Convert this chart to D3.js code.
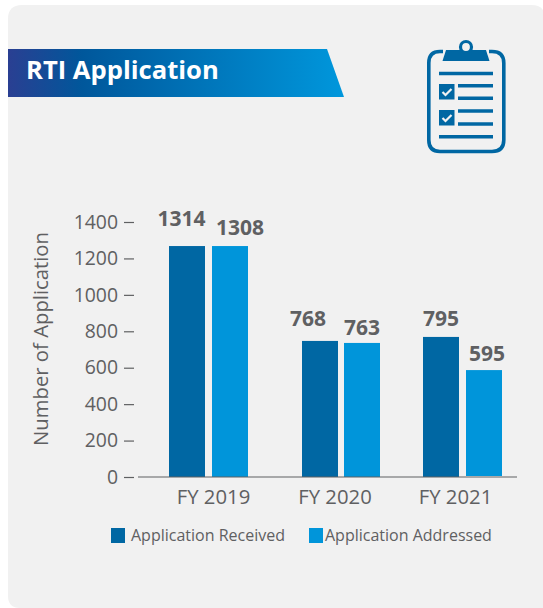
<!DOCTYPE html>
<html><head><meta charset="utf-8">
<script src="https://cdn.jsdelivr.net/npm/d3@7"></script>
<style>html,body{margin:0;padding:0;background:#fff}svg{display:block}text{font-family:"Open Sans",sans-serif}</style>
</head><body><div id="c"></div>
<script>
const categories = ["FY 2019","FY 2020","FY 2021"];
const seriesNames = ["Application Received","Application Addressed"];
// numbers printed above the bars
const receivedLabels = [1314,768,795];
const addressedLabels = [1308,763,595];
// bar heights as read against the printed axis (the source's bars sit a little below their labels)
const receivedBars = [1268,747,769];
const addressedBars = [1268,736,587];
const yTicks = [0,200,400,600,800,1000,1200,1400];
const title = "RTI Application";
const yTitle = "Number of Application";

const W=543,H=608, dark="#0067a3", light="#0095da", ink="#5f6062", FF='"Open Sans",sans-serif';
const svg=d3.select("#c").append("svg").attr("width",W).attr("height",H);
const defs=svg.append("defs");
const g=defs.append("linearGradient").attr("id","bn");
[[0,"#2a3f92"],[.22,"#00579b"],[1,"#0097dc"]].forEach(s=>g.append("stop").attr("offset",s[0]).attr("stop-color",s[1]));

svg.append("path").attr("fill","#f1f1f1")
 .attr("d","M8 596 V19 Q8 5 22 5 H531 Q540 5 543 10 V608 H20 Q8 608 8 596 Z");
svg.append("path").attr("fill","url(#bn)").attr("d","M8 49 H327 L344 97 H8 Z");
svg.append("text").attr("x",26).attr("y",79).attr("fill","#fff").attr("font-weight",700).attr("font-size",25.6).text(title);

// clipboard icon
const ic=svg.append("g").attr("fill","none").attr("stroke",dark);
ic.append("path").attr("stroke-width",3.6).attr("d","M443 51.5 H440 Q428.8 51.5 428.8 63 V140 Q428.8 151.5 440 151.5 H492 Q503.8 151.5 503.8 140 V63 Q503.8 51.5 492 51.5 H489");
ic.append("path").attr("fill",dark).attr("stroke","none").attr("d","M446 50 H486 L489.5 61 H442.5 Z");
ic.append("circle").attr("cx",466).attr("cy",47).attr("r",5.5).attr("fill","#f1f1f1").attr("stroke-width",3.2);
[[439,493,73.5],[458,493,85.7],[458,493,98.3],[458,493,111],[458,493,124],[439,493,136.7]].forEach(l=>
 ic.append("line").attr("x1",l[0]).attr("x2",l[1]).attr("y1",l[2]).attr("y2",l[2]).attr("stroke-width",3.4));
[84,110].forEach(y=>{
 ic.append("rect").attr("x",439).attr("y",y).attr("width",15.5).attr("height",15.5).attr("fill",dark).attr("stroke","none");
 ic.append("path").attr("stroke","#f1f1f1").attr("stroke-width",2.2).attr("d",`M442.5 ${y+8} L445.5 ${y+11} L451.5 ${y+5}`);
});

const y=d3.scaleLinear().domain([0,1400]).range([477,222]);
const xFirst=d3.scaleOrdinal().domain(categories).range([169,302,423]);
const xSecond=d3.scaleOrdinal().domain(categories).range([212,344,466]);
const xTicks=d3.scaleOrdinal().domain(categories).range([213,334.5,455]);
const bw=36;

const ya=svg.append("g").attr("transform","translate(134,0)")
 .call(d3.axisLeft(y).tickValues(yTicks).tickFormat(d3.format("d")).tickSize(10).tickPadding(6));
ya.select(".domain").remove();
ya.selectAll("line").attr("stroke",ink).attr("stroke-width",1.2);
ya.selectAll("text").attr("fill",ink).attr("font-size",19.4).style("font-family",FF);

const xa=svg.append("g").attr("transform","translate(0,477)")
 .call(d3.axisBottom(xTicks).tickSize(0).tickPadding(13));
xa.select(".domain").remove();
xa.selectAll("text").attr("fill",ink).attr("font-size",20.3).style("font-family",FF);

svg.append("g").selectAll("rect").data(categories).join("rect")
 .attr("x",d=>xFirst(d)).attr("width",bw).attr("y",(d,i)=>y(receivedBars[i])).attr("height",(d,i)=>y(0)-y(receivedBars[i])).attr("fill",dark);
svg.append("g").selectAll("rect").data(categories).join("rect")
 .attr("x",d=>xSecond(d)).attr("width",bw).attr("y",(d,i)=>y(addressedBars[i])).attr("height",(d,i)=>y(0)-y(addressedBars[i])-(i===2?1:0)).attr("fill",light);
svg.append("line").attr("x1",138).attr("x2",517).attr("y1",477).attr("y2",477).attr("stroke",ink).attr("stroke-width",1.2);

const lab=(arr,xs,base)=>svg.append("g").selectAll("text").data(arr).join("text")
 .attr("x",(d,i)=>xs[i]).attr("y",(d,i)=>base[i]).attr("text-anchor","middle").attr("fill",ink)
 .attr("font-weight",700).attr("font-size",21).text(d=>d);
lab(receivedLabels,[181.5,308,441],[226,326,326]);
lab(addressedLabels,[240,362,487],[235,334.5,361]);

svg.append("text").attr("transform","translate(48,339) rotate(-90)").attr("text-anchor","middle")
 .attr("fill",ink).attr("font-size",20.3).text(yTitle);

const lg=svg.append("g");
[[111,131,dark],[309,325,light]].forEach((l,i)=>{
 lg.append("rect").attr("x",l[0]).attr("y",528).attr("width",14).attr("height",15).attr("fill",l[2]);
 lg.append("text").attr("x",l[1]).attr("y",541).attr("fill",ink).attr("font-size",16).text(seriesNames[i]);
});
</script></body></html>
